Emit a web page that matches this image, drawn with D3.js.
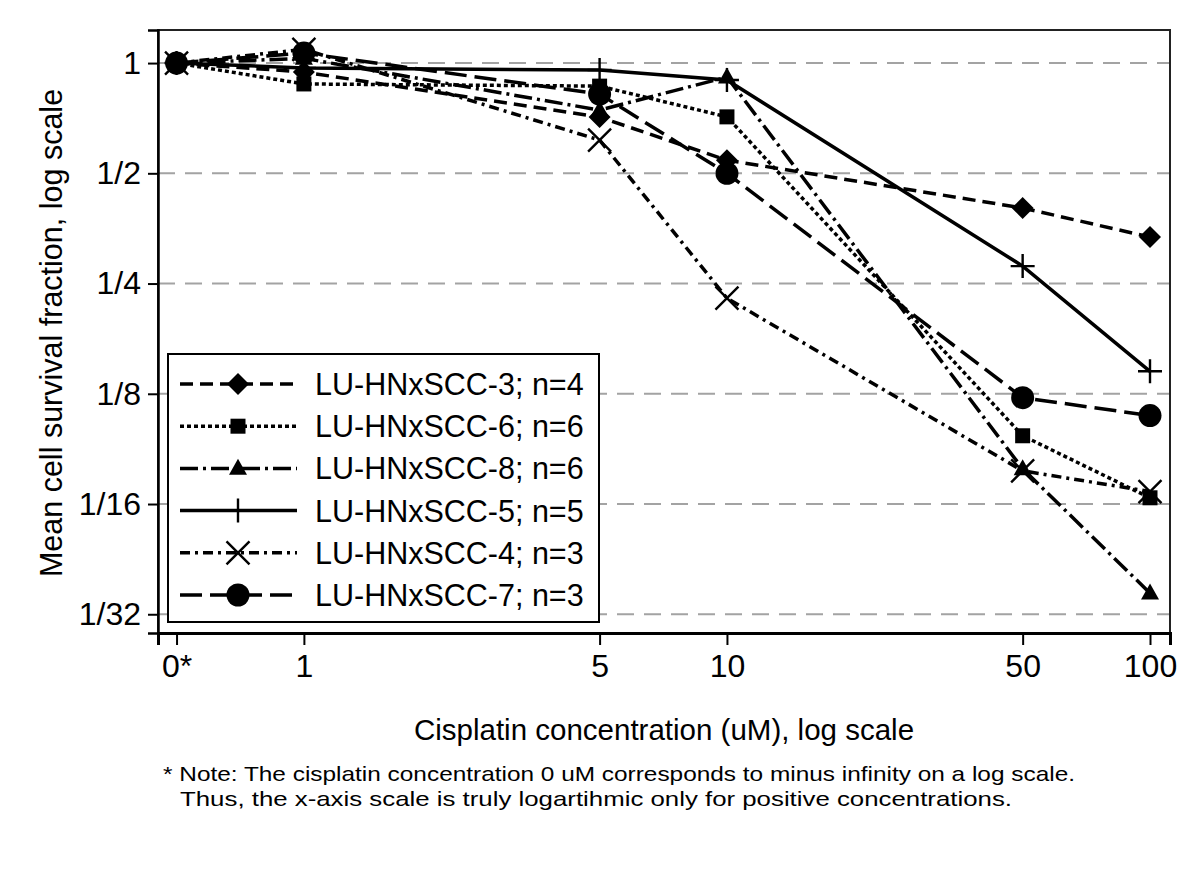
<!DOCTYPE html>
<html>
<head>
<meta charset="utf-8">
<script src="https://cdn.jsdelivr.net/npm/d3@7"></script>
<style>
  html, body { margin: 0; padding: 0; background: #fff; }
  svg { display: block; }
  text { font-family: "Liberation Sans", Arial, sans-serif; fill: #000; }
</style>
</head>
<body>
<svg id="chart" width="1200" height="872"></svg>
<script>
// ---- data ----
const concentrations = [0, 1, 5, 10, 50, 100];
const xTickLabels = ["0*", "1", "5", "10", "50", "100"];
const yTickValues = [1, 1/2, 1/4, 1/8, 1/16, 1/32];
const yTickLabels = ["1", "1/2", "1/4", "1/8", "1/16", "1/32"];
const seriesNames = ["LU-HNxSCC-3; n=4", "LU-HNxSCC-6; n=6", "LU-HNxSCC-8; n=6",
                     "LU-HNxSCC-5; n=5", "LU-HNxSCC-4; n=3", "LU-HNxSCC-7; n=3"];
const survival3 = [1, 0.945, 0.712, 0.543, 0.402, 0.335];
const survival6 = [1, 0.877, 0.865, 0.713, 0.096, 0.065];
const survival8 = [1, 1.03, 0.744, 0.916, 0.078, 0.0357];
const survival5 = [1, 0.97, 0.957, 0.899, 0.279, 0.144];
const survival4 = [1, 1.09, 0.616, 0.228, 0.077, 0.0676];
const survival7 = [1, 1.065, 0.823, 0.5, 0.122, 0.109];
const seriesValues = [survival3, survival6, survival8, survival5, survival4, survival7];
const zeroPosition = 0.5; // where 0 uM is placed on the log axis
const noteLines = [
  "* Note: The cisplatin concentration 0 uM corresponds to minus infinity on a log scale.",
  "Thus, the x-axis scale is truly logartihmic only for positive concentrations."
];

// ---- styles ----
const styles = [
  { dash: "13,7", marker: "diamond" },
  { dash: "4,3", marker: "square" },
  { dash: "18,5,3,5", marker: "triangle" },
  { dash: null, marker: "plus" },
  { dash: "10,5,3,5", marker: "x" },
  { dash: "22,8", marker: "circle" }
];

const svg = d3.select("#chart");
const pLeft = 158, pRight = 1170, pTop = 30, pBottom = 633;

const x = d3.scaleLog().domain([0.452, 111.5]).range([pLeft, pRight]);
const y = d3.scaleLog().base(2).domain([Math.pow(2, -5.17), Math.pow(2, 0.3)]).range([pBottom, pTop]);
const xPos = v => x(v === 0 ? zeroPosition : v);

// grid
svg.append("g").selectAll("line").data(yTickValues).join("line")
  .attr("x1", pLeft).attr("x2", pRight)
  .attr("y1", d => y(d)).attr("y2", d => y(d))
  .attr("stroke", "#a3a3a3").attr("stroke-width", 2)
  .attr("stroke-dasharray", "17,10");

// frame
svg.append("rect").attr("x", pLeft).attr("y", pTop)
  .attr("width", pRight - pLeft).attr("height", pBottom - pTop)
  .attr("fill", "none").attr("stroke", "#222").attr("stroke-width", 2);

// axes
const yAxis = d3.axisLeft(y).tickValues(yTickValues)
  .tickFormat((d, i) => yTickLabels[i]).tickSize(10).tickPadding(7);
const gy = svg.append("g").attr("transform", `translate(${pLeft},0)`).call(yAxis);
gy.select(".domain").attr("stroke", "#000").attr("stroke-width", 2.5);
gy.selectAll(".tick line").attr("stroke", "#000").attr("stroke-width", 2);
gy.selectAll(".tick text").style("font-size", "32px").style("font-family", "Liberation Sans, Arial, sans-serif");

const xAxis = d3.axisBottom(x).tickValues(concentrations.map(v => v === 0 ? zeroPosition : v))
  .tickFormat((d, i) => xTickLabels[i]).tickSize(12).tickPadding(9);
const gx = svg.append("g").attr("transform", `translate(0,${pBottom})`).call(xAxis);
gx.select(".domain").attr("stroke", "#000").attr("stroke-width", 3);
gx.selectAll(".tick line").attr("stroke", "#000").attr("stroke-width", 2);
gx.selectAll(".tick text").style("font-size", "32px").style("font-family", "Liberation Sans, Arial, sans-serif");

// marker drawing
function drawMarker(g, type, cx, cy) {
  if (type === "diamond") {
    const r = 11;
    g.append("path").attr("d", `M${cx},${cy - r}L${cx + r},${cy}L${cx},${cy + r}L${cx - r},${cy}Z`).attr("fill", "#000");
  } else if (type === "square") {
    const s = 15;
    g.append("rect").attr("x", cx - s / 2).attr("y", cy - s / 2).attr("width", s).attr("height", s).attr("fill", "#000");
  } else if (type === "triangle") {
    const w = 18, h = 16;
    g.append("path").attr("d", `M${cx},${cy - h * 0.6}L${cx + w / 2},${cy + h * 0.4}L${cx - w / 2},${cy + h * 0.4}Z`).attr("fill", "#000");
  } else if (type === "circle") {
    g.append("circle").attr("cx", cx).attr("cy", cy).attr("r", 11.5).attr("fill", "#000");
  } else if (type === "plus") {
    const a = 12;
    g.append("path").attr("d", `M${cx - a},${cy}H${cx + a}M${cx},${cy - a}V${cy + a}`)
      .attr("stroke", "#000").attr("stroke-width", 2.4).attr("fill", "none");
  } else if (type === "x") {
    const a = 11.5;
    g.append("path").attr("d", `M${cx - a},${cy - a}L${cx + a},${cy + a}M${cx - a},${cy + a}L${cx + a},${cy - a}`)
      .attr("stroke", "#000").attr("stroke-width", 2.4).attr("fill", "none");
  }
}

// series
const line = d3.line().x(d => xPos(d[0])).y(d => y(d[1]));
seriesValues.forEach((vals, i) => {
  const pts = concentrations.map((c, j) => [c, vals[j]]);
  const g = svg.append("g");
  g.append("path").attr("d", line(pts)).attr("fill", "none")
    .attr("stroke", "#000").attr("stroke-width", 3.5)
    .attr("stroke-dasharray", styles[i].dash);
  pts.forEach(p => drawMarker(g, styles[i].marker, xPos(p[0]), y(p[1])));
});

// legend
const lg = svg.append("g");
const lgX = 168, lgY = 354, lgW = 431, lgH = 268;
lg.append("rect").attr("x", lgX).attr("y", lgY).attr("width", lgW).attr("height", lgH)
  .attr("fill", "#fff").attr("stroke", "#000").attr("stroke-width", 2);
seriesNames.forEach((name, i) => {
  const cy = 384 + i * 42.2;
  lg.append("line").attr("x1", 180).attr("x2", 297).attr("y1", cy).attr("y2", cy)
    .attr("stroke", "#000").attr("stroke-width", 3.5).attr("stroke-dasharray", styles[i].dash);
  drawMarker(lg, styles[i].marker, 238, cy);
  lg.append("text").attr("x", 315).attr("y", cy).attr("dy", "0.36em")
    .style("font-size", "30.5px").text(name);
});

// axis titles
svg.append("text").attr("x", (pLeft + pRight) / 2).attr("y", 740)
  .attr("text-anchor", "middle").style("font-size", "29.5px")
  .text("Cisplatin concentration (uM), log scale");
svg.append("text").attr("transform", `translate(62,333) rotate(-90)`)
  .attr("text-anchor", "middle").style("font-size", "30.5px")
  .text("Mean cell survival fraction, log scale");

// note
svg.append("text").attr("x", 163).attr("y", 781).style("font-size", "21px")
  .attr("textLength", 912).attr("lengthAdjust", "spacingAndGlyphs")
  .text(noteLines[0]);
svg.append("text").attr("x", 180).attr("y", 806).style("font-size", "21px")
  .attr("textLength", 832).attr("lengthAdjust", "spacingAndGlyphs")
  .text(noteLines[1]);
</script>
</body>
</html>
